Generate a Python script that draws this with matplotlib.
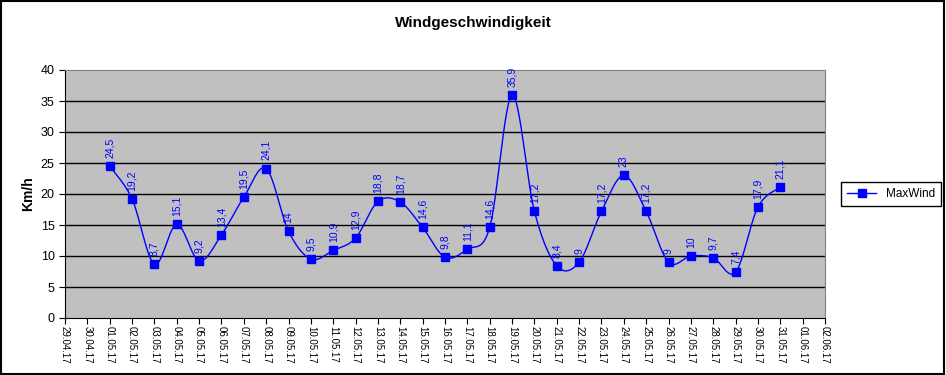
import numpy as np
import matplotlib
matplotlib.use("Agg")
import matplotlib.pyplot as plt
from matplotlib.patches import Rectangle

plt.rcParams['font.family'] = ['Liberation Sans', 'DejaVu Sans']

# Data
dates = ["29.04.17", "30.04.17"] + [f"{d:02d}.05.17" for d in range(1, 32)] + ["01.06.17", "02.06.17"]
max_wind = [24.5, 19.2, 8.7, 15.1, 9.2, 13.4, 19.5, 24.1, 14, 9.5, 10.9, 12.9, 18.8, 18.7, 14.6,
            9.8, 11.1, 14.6, 35.9, 17.2, 8.4, 9, 17.2, 23, 17.2, 9, 10, 9.7, 7.4, 17.9, 21.1]
first_idx = 2  # 01.05.17


def smooth(xs, ys, n=30):
    # Catmull-Rom curve through the points, similar to Excel's smoothed line
    xs = np.asarray(xs, float)
    ys = np.asarray(ys, float)
    px = np.concatenate([[xs[0]], xs, [xs[-1]]])
    py = np.concatenate([[ys[0]], ys, [ys[-1]]])
    outx, outy = [], []
    t = np.linspace(0, 1, n)
    for i in range(1, len(px) - 2):
        for p, out in ((px, outx), (py, outy)):
            p0, p1, p2, p3 = p[i - 1], p[i], p[i + 1], p[i + 2]
            m1 = (p2 - p0) / 2
            m2 = (p3 - p1) / 2
            h00 = 2 * t**3 - 3 * t**2 + 1
            h10 = t**3 - 2 * t**2 + t
            h01 = -2 * t**3 + 3 * t**2
            h11 = t**3 - t**2
            out.extend(h00 * p1 + h10 * m1 + h01 * p2 + h11 * m2)
    return np.array(outx), np.array(outy)


xpos = np.arange(first_idx, first_idx + len(max_wind))

fig = plt.figure(figsize=(9.46, 3.75), dpi=100)
ax = fig.add_axes([65 / 946, 1 - 318 / 375, 760 / 946, 248 / 375])
ax.set_facecolor('#C0C0C0')

for y in range(5, 40, 5):
    ax.axhline(y, color='black', lw=1, zorder=1)

sx, sy = smooth(xpos, max_wind)
ax.plot(sx, sy, color='#0000FF', lw=1, zorder=2)
ax.plot(xpos, max_wind, ls='none', marker='s', ms=5.5, color='#0000FF', zorder=3)
ax.plot([], [], color='#0000FF', lw=1, marker='s', ms=5.5, label='MaxWind')

for x, v in zip(xpos, max_wind):
    txt = f"{v:g}".replace('.', ',')
    ax.annotate(txt, (x, v), xytext=(0, 6), textcoords='offset points',
                rotation=90, ha='center', va='bottom', fontsize=7.5, color='#0000FF')

ax.set_xlim(0, len(dates) - 1)
ax.set_ylim(0, 40)
ax.set_xticks(range(len(dates)))
ax.set_xticklabels(dates, rotation=270, fontsize=7, va='top', ha='center')
ax.set_yticks(range(0, 41, 5))
ax.tick_params(axis='y', labelsize=9, length=4, direction='out')
ax.tick_params(axis='x', length=4, direction='out', pad=2)

for side in ('top', 'right'):
    ax.spines[side].set_color('#808080')
for side in ('left', 'bottom'):
    ax.spines[side].set_color('black')

ax.set_ylabel('Km/h', fontsize=10, fontweight='bold', labelpad=4)
fig.text(473 / 946, 1 - 23 / 375, 'Windgeschwindigkeit', ha='center', va='center',
         fontsize=11, fontweight='bold')

fig.legend(loc='center', bbox_to_anchor=(891 / 946, 1 - 194 / 375), fontsize=8.5,
           frameon=True, fancybox=False, edgecolor='black', handlelength=2.5,
           borderpad=0.5, framealpha=1)

fig.patches.append(Rectangle((0.001, 0.002), 0.997, 0.996, transform=fig.transFigure,
                             fill=False, edgecolor='black', lw=1.5))

fig.savefig('out.png', dpi=100)
